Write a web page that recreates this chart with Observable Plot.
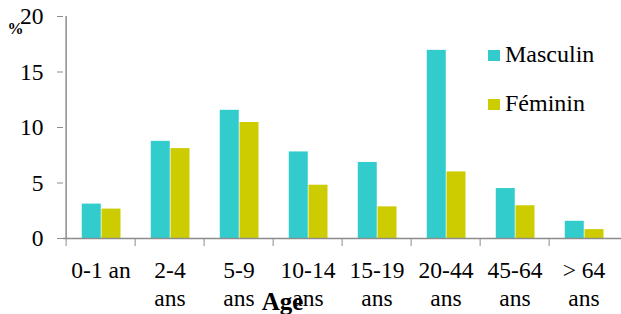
<!DOCTYPE html>
<html>
<head>
<meta charset="utf-8">
<script src="https://cdn.jsdelivr.net/npm/d3@7"></script>
<script src="https://cdn.jsdelivr.net/npm/@observablehq/plot@0.6"></script>
<style>
  body { margin: 0; background: #fff; }
  #wrap { position: relative; width: 621px; height: 314px; overflow: hidden; font-family: 'Liberation Serif', 'Times New Roman', serif; }
  .sw { position: absolute; width: 12px; height: 11px; }
  .lt { position: absolute; font-size: 24px; line-height: 24px; color: #000; white-space: nowrap; font-family: 'Liberation Serif', 'Times New Roman', serif; }
</style>
</head>
<body>
<div id="wrap"></div>
<script>
const categories = ["0-1 an", "2-4\nans", "5-9\nans", "10-14\nans", "15-19\nans", "20-44\nans", "45-64\nans", "> 64\nans"];
const masculin = [3.1, 8.75, 11.55, 7.8, 6.85, 16.95, 4.5, 1.55];
const feminin = [2.65, 8.1, 10.45, 4.8, 2.85, 6.0, 2.95, 0.8];
const series = ["Masculin", "Féminin"];
const colors = ["#33CCCC", "#CCCC00"];
const yTicks = [0, 5, 10, 15, 20];
const xLabel = "Age";
const yLabel = "%";

const rows = [];
categories.forEach((c, i) => {
  rows.push({cat: c, serie: series[0], value: masculin[i]});
  rows.push({cat: c, serie: series[1], value: feminin[i]});
});

const W = 621, H = 314, mL = 63, mR = 0, mT = 16, mB = 76;
const step = (W - mL - mR) / categories.length;
const gray = "#8c8c8c";
const serif = "'Liberation Serif', 'Times New Roman', serif";
const fs = 23.5;

const plot = Plot.plot({
  width: W, height: H,
  marginLeft: mL, marginRight: mR, marginTop: mT, marginBottom: mB,
  style: {fontFamily: serif, fontSize: fs + "px", color: "#000", background: "transparent"},
  x: {domain: categories, padding: 0, label: null},
  y: {domain: [0, 20], label: null},
  color: {domain: series, range: colors},
  marks: [
    Plot.barY(rows.filter(d => d.serie === series[0]), {
      x: "cat", y: "value", fill: "serie",
      insetLeft: step * 0.226, insetRight: step * 0.491
    }),
    Plot.barY(rows.filter(d => d.serie === series[1]), {
      x: "cat", y: "value", fill: "serie",
      insetLeft: step * 0.509, insetRight: step * 0.208
    }),
    Plot.ruleY([0], {stroke: gray, strokeWidth: 1.5}),
    Plot.ruleX([categories[0]], {dx: -step / 2, stroke: gray, strokeWidth: 1.5}),
    Plot.axisY({ticks: yTicks, tickSize: 6, tickPadding: 14, stroke: gray, fill: "#000", label: null, fontSize: fs}),
    Plot.axisX({tickSize: 8, tickFormat: () => "", dx: -step / 2, stroke: gray, label: null}),
    Plot.axisX({tickSize: 0, tickPadding: 20.3, fill: "#000", label: null, fontSize: fs, lineHeight: 1.17}),
    Plot.text([xLabel], {frameAnchor: "bottom-left", dx: 282 - mL, dy: 71, text: d => d, fontWeight: "bold", fontSize: 25, textAnchor: "middle", lineAnchor: "bottom", fill: "#000"}),
    Plot.text([yLabel], {frameAnchor: "top-left", dx: 15 - mL, dy: 17, text: d => d, fontWeight: "bold", fontSize: 16, textAnchor: "middle", lineAnchor: "bottom", fill: "#000"})
  ]
});

const wrap = document.getElementById("wrap");
wrap.appendChild(plot);
const legTops = [50, 99];
series.forEach((s, i) => {
  const sw = document.createElement("div");
  sw.className = "sw";
  sw.style.left = "488px";
  sw.style.top = legTops[i] + "px";
  sw.style.background = colors[i];
  wrap.appendChild(sw);
  const t = document.createElement("div");
  t.className = "lt";
  t.style.left = "505px";
  t.style.top = (legTops[i] - 8.4) + "px";
  t.textContent = s;
  wrap.appendChild(t);
});
plot.style.position = "absolute";
plot.style.left = "0";
plot.style.top = "0";
</script>
</body>
</html>
